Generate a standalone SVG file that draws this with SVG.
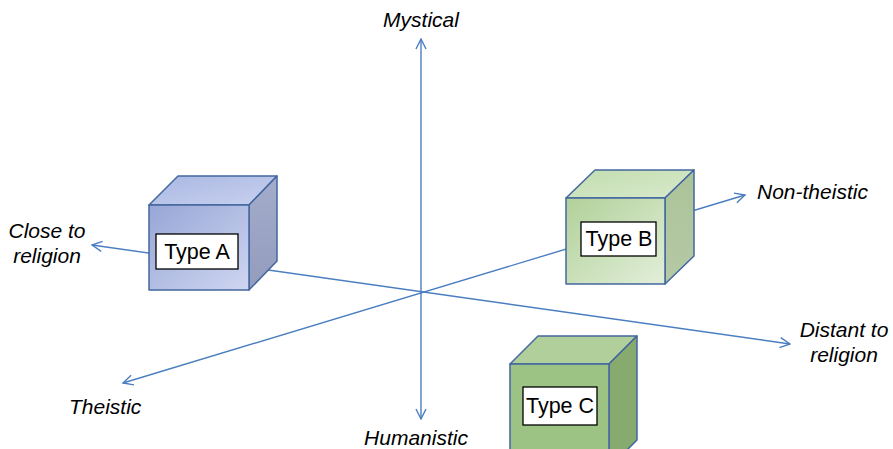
<svg xmlns="http://www.w3.org/2000/svg" width="893" height="449" viewBox="0 0 893 449">
<style>
.ax{stroke:#4a7ec0;stroke-width:1.4;fill:none;marker-start:url(#ah);marker-end:url(#ah)}
.lab{font-family:"Liberation Sans",Arial,sans-serif;font-style:italic;font-size:21px;fill:#000}
.cube path,.cube rect.f{stroke:#43679f;stroke-width:1.5;stroke-linejoin:round}
.box{fill:#fff;stroke:#000;stroke-width:1.3}
.tt{font-family:"Liberation Sans",Arial,sans-serif;font-size:21.5px;fill:#000;text-anchor:middle}
</style>
<defs>
<marker id="ah" viewBox="0 0 12 12" refX="11" refY="6" markerWidth="12" markerHeight="12" markerUnits="userSpaceOnUse" orient="auto-start-reverse">
<path d="M1,1 L11,6 L1,11" fill="none" stroke="#4a7ec0" stroke-width="1.4"/>
</marker>
<linearGradient id="gAf" x1="0" y1="0" x2="1" y2="1"><stop offset="0" stop-color="#97a6d6"/><stop offset="1" stop-color="#cfd6f1"/></linearGradient>
<linearGradient id="gAt" x1="0" y1="0" x2="1" y2="1"><stop offset="0" stop-color="#a9b7e2"/><stop offset="1" stop-color="#c9d1ef"/></linearGradient>
<linearGradient id="gAs" x1="0" y1="0" x2="0" y2="1"><stop offset="0" stop-color="#a3acca"/><stop offset="1" stop-color="#939cbd"/></linearGradient>
<linearGradient id="gBf" x1="0" y1="0" x2="1" y2="1"><stop offset="0" stop-color="#b1d099"/><stop offset="1" stop-color="#e2efd9"/></linearGradient>
<linearGradient id="gBt" x1="0" y1="0" x2="1" y2="1"><stop offset="0" stop-color="#c2ddaf"/><stop offset="1" stop-color="#d8e9cc"/></linearGradient>
<linearGradient id="gBs" x1="0" y1="0" x2="0" y2="1"><stop offset="0" stop-color="#abc399"/><stop offset="1" stop-color="#b5c9a5"/></linearGradient>
</defs>
<g id="connectors">
<line class="ax" x1="421" y1="419" x2="421" y2="39"/>
<line class="ax" x1="790" y1="344" x2="92" y2="245"/>
<line class="ax" x1="123" y1="383" x2="745" y2="195"/>
</g>
<g id="mystical"><text class="lab" x="421" y="27" text-anchor="middle">Mystical</text></g>
<g id="humanistic"><text class="lab" x="416" y="445" text-anchor="middle">Humanistic</text></g>
<g id="close"><text class="lab" x="47" y="238" text-anchor="middle">Close to</text><text class="lab" x="47" y="263" text-anchor="middle">religion</text></g>
<g id="distant"><text class="lab" x="844" y="337" text-anchor="middle">Distant to</text><text class="lab" x="844" y="362" text-anchor="middle">religion</text></g>
<g id="nontheistic"><text class="lab" x="757" y="199">Non-theistic</text></g>
<g id="theistic"><text class="lab" x="69" y="414">Theistic</text></g>
<g id="typeA" class="cube">
<path d="M149,205 L178,176 L277,176 L249,205 Z" fill="url(#gAt)"/>
<path d="M249,205 L277,176 L277,261 L249,290 Z" fill="url(#gAs)"/>
<path d="M149,205 L249,205 L249,290 L149,290 Z" fill="url(#gAf)"/>
<rect class="box" x="156" y="234" width="82" height="35"/>
<text class="tt" x="197" y="259">Type A</text>
</g>
<g id="typeB" class="cube">
<path d="M566,198 L595,170 L694,170 L665,198 Z" fill="url(#gBt)"/>
<path d="M665,198 L694,170 L694,256 L665,284 Z" fill="url(#gBs)"/>
<path d="M566,198 L665,198 L665,284 L566,284 Z" fill="url(#gBf)"/>
<rect class="box" x="581" y="222" width="75" height="34"/>
<text class="tt" x="619" y="246">Type B</text>
</g>
<g id="typeC" class="cube">
<path d="M510,364 L538,336 L637,336 L609,364 Z" fill="#b0cf9a"/>
<path d="M609,364 L637,336 L637,440 L609,468 Z" fill="#87aa6e"/>
<path d="M510,364 L609,364 L609,470 L510,470 Z" fill="#9dc384"/>
<rect class="box" x="523" y="387" width="74" height="38"/>
<text class="tt" x="560" y="413">Type C</text>
</g>
</svg>
